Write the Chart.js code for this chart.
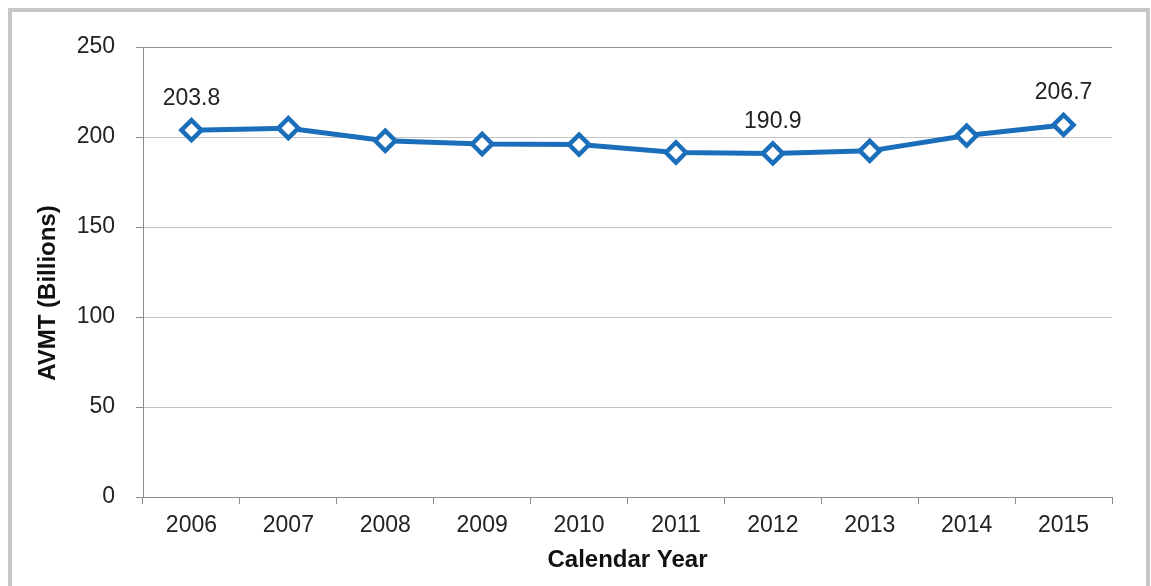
<!DOCTYPE html>
<html>
<head>
<meta charset="utf-8">
<title>AVMT (Billions) by Calendar Year</title>
<script src="https://cdn.jsdelivr.net/npm/chart.js"></script>
<style>
  html, body { margin: 0; padding: 0; background: #fff; overflow: hidden; }
  #wrap { position: absolute; left: 0; top: 0; width: 1151px; height: 586px; }
  #frame {
    position: absolute; left: 8px; top: 8px; width: 1134px; height: 640px;
    border: 4px solid #c6c6c6; border-bottom: none; pointer-events: none;
  }
</style>
</head>
<body>
<div id="wrap"><canvas id="chart"></canvas></div>
<div id="frame"></div>
<script>
// data
const years = ['2006', '2007', '2008', '2009', '2010', '2011', '2012', '2013', '2014', '2015'];
const avmt = [203.8, 204.9, 197.9, 196.1, 195.8, 191.4, 190.9, 192.3, 200.8, 206.7];
const labelledYears = ['2006', '2012', '2015'];
const yTicks = [0, 50, 100, 150, 200, 250];

const BLUE = '#1b6fba';
const AXIS = '#8c8c8c';
const GRID = '#c4c4c4';
const FONT = '"Liberation Sans", Arial, sans-serif';

// value labels above selected points
const valueLabels = {
  id: 'valueLabels',
  afterDatasetsDraw(chart) {
    const ctx = chart.ctx;
    const meta = chart.getDatasetMeta(0);
    ctx.save();
    ctx.font = '23px ' + FONT;
    ctx.fillStyle = '#222';
    ctx.textAlign = 'center';
    ctx.textBaseline = 'middle';
    meta.data.forEach((pt, i) => {
      if (labelledYears.includes(years[i])) {
        ctx.fillText(avmt[i].toFixed(1), pt.x, pt.y - 32);
      }
    });
    ctx.restore();
  }
};

// y axis title, placed like the excel one (a bit below centre)
const yTitle = {
  id: 'yTitle',
  afterDraw(chart) {
    const ctx = chart.ctx;
    const area = chart.chartArea;
    ctx.save();
    ctx.translate(48, (area.top + area.bottom) / 2 + 21);
    ctx.rotate(-Math.PI / 2);
    ctx.font = 'bold 24px ' + FONT;
    ctx.fillStyle = '#111';
    ctx.textAlign = 'center';
    ctx.textBaseline = 'middle';
    ctx.fillText('AVMT (Billions)', 0, 0);
    ctx.restore();
  }
};

new Chart(document.getElementById('chart'), {
  type: 'line',
  data: {
    labels: years,
    datasets: [{
      label: 'AVMT',
      data: avmt,
      borderColor: BLUE,
      borderWidth: 5,
      tension: 0,
      pointStyle: 'rectRot',
      pointRadius: 10,
      pointBorderWidth: 4.5,
      pointBackgroundColor: '#fff',
      pointBorderColor: BLUE
    }]
  },
  options: {
    responsive: true,
    maintainAspectRatio: false,
    animation: false,
    layout: { padding: { top: 47, right: 39, bottom: 0, left: 0 } },
    plugins: {
      legend: { display: false },
      tooltip: { enabled: false }
    },
    scales: {
      x: {
        offset: true,
        afterFit(s) { s.height = 89; },
        grid: {
          offset: true,
          drawOnChartArea: true,
          color: c => (c.index === years.length ? AXIS : 'rgba(0,0,0,0)'),
          tickColor: AXIS,
          tickLength: 7,
          lineWidth: 1
        },
        border: { color: AXIS, width: 1 },
        ticks: { color: '#222', font: { family: FONT, size: 23 }, padding: 8, maxRotation: 0 },
        title: {
          display: true,
          text: 'Calendar Year',
          color: '#111',
          font: { family: FONT, size: 24, weight: 'bold' },
          padding: { top: 0, bottom: 11 }
        }
      },
      y: {
        min: yTicks[0],
        max: yTicks[yTicks.length - 1],
        afterFit(s) { s.width = 143; },
        afterBuildTicks(s) { s.ticks = yTicks.map(v => ({ value: v })); },
        grid: {
          color: c => (c.tick && c.tick.value === 250 ? AXIS : GRID),
          tickColor: AXIS,
          tickLength: 7,
          lineWidth: 1
        },
        border: { color: AXIS, width: 1 },
        ticks: { color: '#222', font: { family: FONT, size: 23 }, padding: 21 }
      }
    }
  },
  plugins: [valueLabels, yTitle]
});
</script>
</body>
</html>
